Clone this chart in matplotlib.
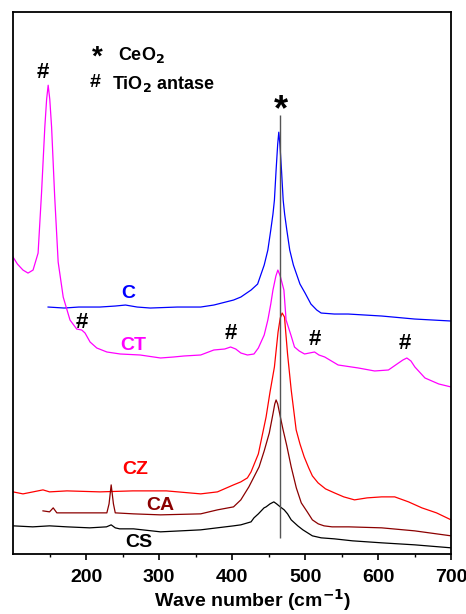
import matplotlib.pyplot as plt
import numpy as np

plt.rcParams['font.family'] = ['Liberation Sans', 'DejaVu Sans']
plt.rcParams['font.weight'] = 'bold'

# Raman spectra (wave number in cm-1, intensity in a.u.)
c_w = [148, 170, 190, 219, 240, 254, 270, 288, 325, 357, 375, 402, 412, 426, 435, 444, 449,
       453, 456, 458, 460.3, 462.5, 464, 465.5, 467.7, 470, 472, 475, 479, 484, 493,
       500, 508, 516, 522, 540, 559, 605, 650, 700]
c_i = [247, 246, 247, 247, 248, 249, 247, 246, 247, 247, 249, 254, 257, 264, 270, 289, 304,
       324, 340, 354, 384, 410, 422, 410, 384, 354, 340, 324, 304, 289, 270,
       261, 250, 244, 241, 240, 240, 238, 235, 233]

ct_w = [100, 106, 113.6, 120.5, 127.4, 134.3, 139, 143.5, 146, 148.1, 150.3, 152.8, 157,
        161.8, 168.7, 178, 187.2, 194.1, 198.6, 205.5, 214.7, 228.5, 246.8, 274, 302, 320,
        334, 357, 375, 390, 398, 405, 412, 421, 430, 436, 444, 449, 453, 456, 460, 462.7,
        466, 471, 474, 481, 485.5, 492, 499.3, 506, 513, 519, 526.9, 545.3, 572.9, 595.3,
        614.2, 628, 634, 639.4, 645, 650.4, 664.2, 683.1, 700]
ct_i = [297, 290, 284, 281, 284, 301, 361, 427, 455, 469, 455, 427, 358,
        292, 257, 234, 225, 224, 221, 212, 206, 202, 200, 199, 196, 197,
        198, 199, 204, 205, 207, 205, 201, 199, 200, 206, 219, 234, 250, 264, 278, 284,
        278, 264, 234, 218, 207, 203, 200, 201, 202, 199, 197, 189, 186, 183,
        184, 191, 194, 196, 193, 187, 176, 170, 167]

cz_w = [100, 113.6, 127.4, 141, 150, 173.8, 219, 264, 310, 357, 380, 402, 412, 421, 426,
        436, 446.6, 452, 458, 463, 466, 468.6, 471.8, 476, 481, 487.8, 493, 498.8, 505,
        510, 517.8, 528, 540.2, 553, 567.7, 585, 604.9, 622.8, 641.7, 660, 680, 700]
cz_i = [62, 60, 62, 64, 62, 63, 62, 63, 63, 60, 62, 69, 72, 76, 82,
        100, 137, 162, 187, 222, 236, 241, 237, 200, 164, 124, 110, 97, 86,
        78, 71, 65, 61, 57, 54, 56, 57, 57, 52, 46, 41, 34]

ca_w = [141, 150, 155, 160, 205, 228.5, 231.5, 234.4, 237.5, 240, 265, 302, 357, 380, 402,
        412, 423, 437, 444, 451, 456, 458.5, 460.3, 462.5, 465, 469.6, 475, 481, 488,
        494.8, 503, 510, 518, 526, 537, 560, 605, 650, 700]
ca_i = [43, 42, 46, 41, 41, 41, 50, 69, 50, 41, 40, 39, 40, 44, 47,
        54, 67, 87, 103, 121, 140, 150, 154, 150, 141, 125, 108, 87, 66,
        51, 42, 34, 30, 28, 27, 27, 26, 23, 18]

cs_w = [100, 127, 150, 173.8, 205, 228, 234.4, 240, 246, 265, 302, 330, 357, 402, 412, 426,
        430, 436, 443.8, 446.6, 452, 457.2, 461, 466, 471.4, 476, 481, 490, 497, 510,
        522, 540, 565, 605, 650, 700]
cs_i = [28, 27, 28, 27, 26, 27, 29, 26, 25, 25, 22, 23, 24, 28, 29, 32,
        36, 40, 46, 47, 50, 52, 50, 47, 44, 40, 34, 28, 24, 18,
        16, 15, 13, 11, 9, 6]

series = [
    ('C', c_w, c_i, '#0000FF', 258, 261),
    ('CT', ct_w, ct_i, '#FF00FF', 265, 209),
    ('CZ', cz_w, cz_i, '#FF0000', 268, 84),
    ('CA', ca_w, ca_i, '#8B0000', 302, 48),
    ('CS', cs_w, cs_i, '#000000', 272, 11),
]

# TiO2 anatase band marks and the CeO2 F2g mark
hash_w = [141, 194.5, 398, 513, 637]
hash_i = [482, 232, 221, 215, 211]
ceo2_w = 466

fig = plt.figure(figsize=(4.66, 6.14), dpi=100)
ax = fig.add_axes([0.028, 0.098, 0.940, 0.882])

for name, w, inten, col, lx, ly in series:
    ax.plot(w, inten, color=col, lw=0.9)
    ax.text(lx, ly, name, color=col, fontsize=14, fontweight='bold',
            ha='center', va='center')

ax.vlines(ceo2_w, 16, 439, color='#555555', lw=1.0)
ax.text(467, 444, '*', fontsize=26, fontweight='bold', ha='center', va='center')
for hw, hi in zip(hash_w, hash_i):
    ax.text(hw, hi, '#', fontsize=16, fontweight='bold', ha='center', va='center')

# legend text
ax.text(215, 497, '*', fontsize=20, fontweight='bold', ha='center', va='center')
ax.text(244, 499, 'CeO$_\\mathbf{2}$', fontsize=13, fontweight='bold', ha='left', va='center')
ax.text(212, 472, '#', fontsize=14, fontweight='bold', ha='center', va='center')
ax.text(236, 470, 'TiO$_\\mathbf{2}$ antase', fontsize=13, fontweight='bold', ha='left', va='center')

ax.set_xlim(100, 700)
ax.set_ylim(0, 542)
ax.set_xticks([200, 300, 400, 500, 600, 700])
ax.set_xticks([150, 250, 350, 450, 550, 650], minor=True)
ax.set_yticks([])
ax.tick_params(axis='x', which='major', length=4, width=1.2, labelsize=14, pad=7)
ax.tick_params(axis='x', which='minor', length=2.5, width=1.0)
for lab in ax.get_xticklabels():
    lab.set_fontweight('bold')
for sp in ax.spines.values():
    sp.set_linewidth(1.3)
ax.set_xlabel('Wave number (cm$^{\\mathbf{-1}}$)', fontsize=14, fontweight='bold', labelpad=1)
ax.xaxis.set_label_coords(0.546, -0.062)

fig.savefig('out.png', dpi=100)
